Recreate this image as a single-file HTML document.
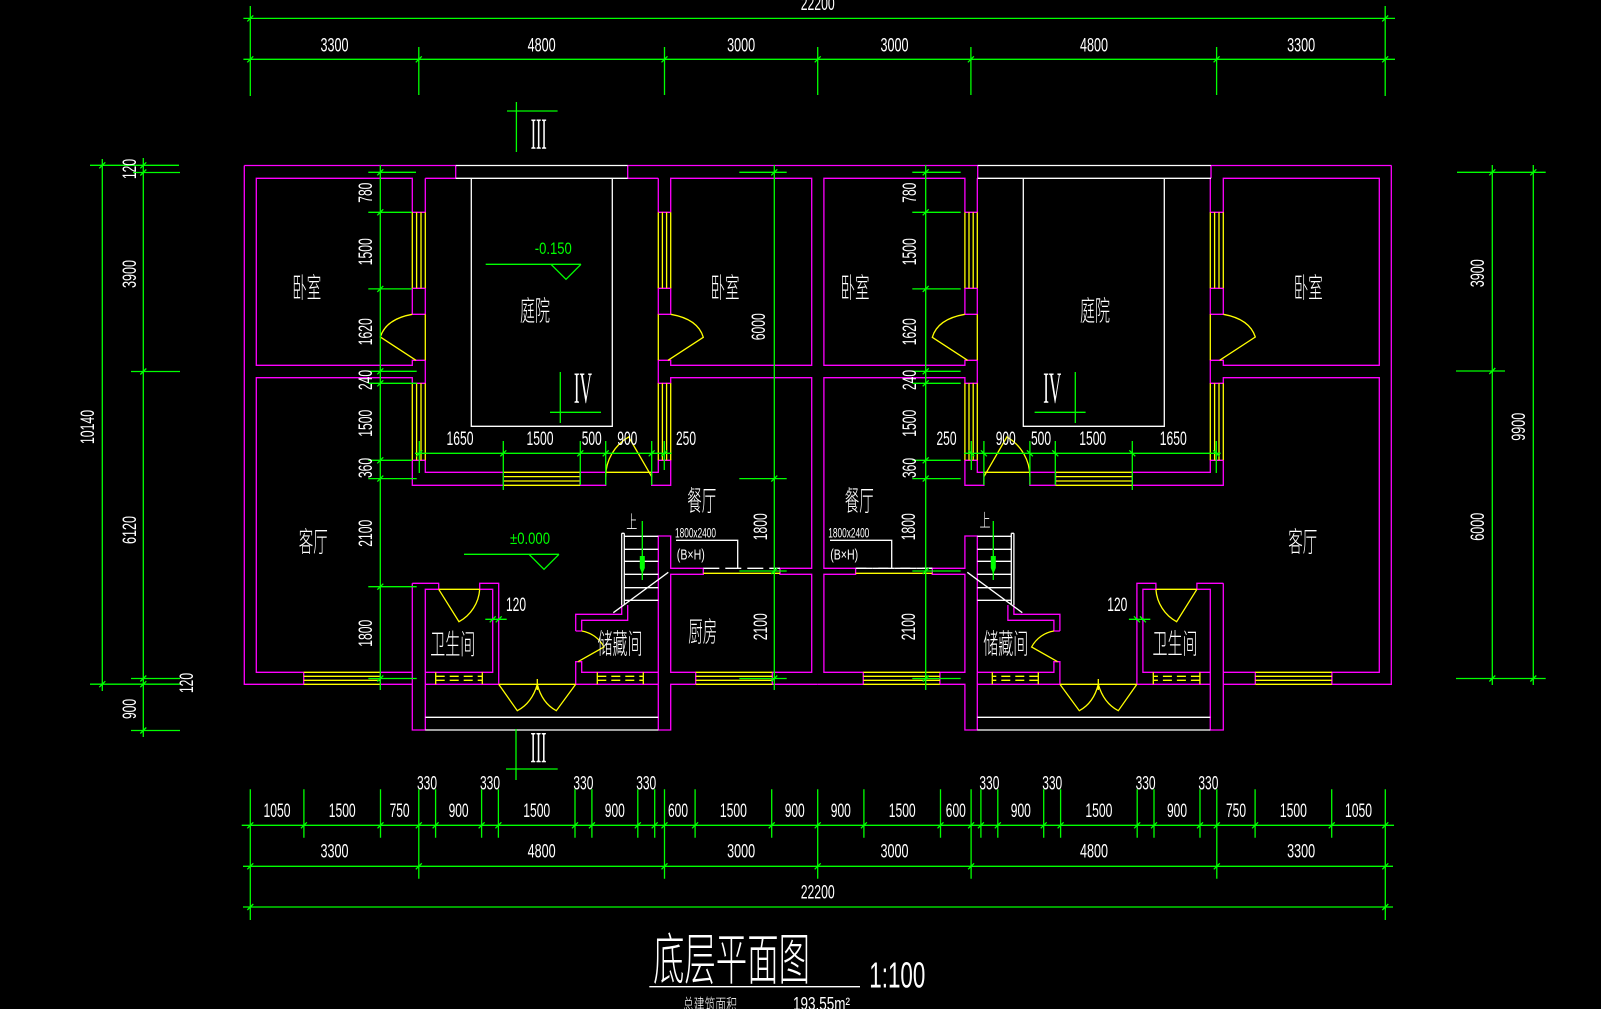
<!DOCTYPE html>
<html><head><meta charset="utf-8">
<style>
html,body{margin:0;padding:0;background:#000;overflow:hidden}
svg{display:block}
.d{font-family:"Liberation Sans",sans-serif;font-size:19px;fill:#fff;text-anchor:middle}
.c{font-family:"Liberation Sans","Noto Sans CJK SC",sans-serif;font-size:28px;fill:#fff;text-anchor:middle;font-weight:300}
.g{font-family:"Liberation Sans",sans-serif;font-size:17px;fill:#0f0;text-anchor:middle}
.r{font-family:"Liberation Serif",serif;font-size:44px;fill:#fff;text-anchor:middle}
.s{font-family:"Liberation Sans",sans-serif;fill:#fff;text-anchor:middle}
</style></head>
<body>
<svg width="1601" height="1009" viewBox="0 0 1601 1009" xmlns="http://www.w3.org/2000/svg">
<rect width="1601" height="1009" fill="#000"/>
<g fill="none" stroke-width="1.3">
<g id="u">
<path stroke="#f0f" d="M244.3 165.5V684.3H303.7V672.3H256.3V377.7H412.3V383.3H425.3V360.3H412.3V365.3H256.3V178.3H412.3V212.3H425.3V178.3M412.3 288.3H425.3V314.3H412.3ZM380.3 684.3V672.3H412.3M380.3 684.3H412.3M412.3 460.3H425.3V472.3H503.3V485.3H412.3V460.3M580 472.3H605.7V485.3H580ZM651.7 472.3V485.3H670.7V460.3H658.3V472.3H651.7M658.3 212.3V178.3M670.7 212.3V178.3H811.7V365.3H670.7V360.3H658.3V383.3H670.7V377.7H811.7V568.3H780V574.3H811.7V672.3H772.3V684.3H817.8M658.3 212.3H670.7M658.3 288.3H670.7V314.3H658.3ZM695.7 684.3V672.3H670.7V574.3H703.3V568.3H670.7V536H658.3V730H670.7V684.3H695.7M412.3 583.3H438.7V589.3H425.3V730H412.3V583.3M425.3 672.3H492.7V589.3H479.7V583.3H498.7V684.3H425.3M575.7 684.3H658.3M575.7 684.3V661.7H581.7V672.3H658.3M575.7 631V614.3H621.7V605M581.7 631V620.3H627.7V605M575.7 631H581.7"/>
<path stroke="#ff0" d="M412.3 212.3V288.3M416.6 212.3V288.3M421 212.3V288.3M425.3 212.3V288.3M412.3 383.3V460.3M416.6 383.3V460.3M421 383.3V460.3M425.3 383.3V460.3M658.3 212.3V288.3M662.4 212.3V288.3M666.6 212.3V288.3M670.7 212.3V288.3M658.3 383.3V460.3M662.4 383.3V460.3M666.6 383.3V460.3M670.7 383.3V460.3M503.3 472.3H580M503.3 476.6H580M503.3 481H580M503.3 485.3H580M303.7 672.3H380.3M303.7 676.3H380.3M303.7 680.3H380.3M303.7 684.3H380.3M695.7 672.3H772.3M695.7 676.3H772.3M695.7 680.3H772.3M695.7 684.3H772.3M425.3 314.3V360.3M412.3 314.3Q386 319 380.3 337L416 360.3M658.3 314.3V360.3M670.7 314.3Q698 319 703.3 337.3L668 360.3M605.7 472.3H651.7M605.7 476.7A46 46 0 0 1 628.7 436.9L651.7 476.7M703.3 573.3H780M438.7 589.3H479.7M438.7 589.3L459 621.7A40 40 0 0 0 479.7 589.3M435.7 672.3V684.3M482.3 672.3V684.3M597.3 672.3V684.3M643.3 672.3V684.3M581.7 631A31 31 0 0 1 604 647L578 661.7M498.7 684.3H575.7M498.7 684.3L517.3 710.7Q532 703 537.3 684.3Q542 703 556.3 710.7L575.7 684.3M537.3 679V690"/>
<path stroke="#ff0" stroke-dasharray="9 5" d="M435.7 676.3H482.3M435.7 680.3H482.3M597.3 676.3H643.3M597.3 680.3H643.3"/>
<path stroke="#fff" d="M471.3 178.3V426.3H612.3V178.3M425.3 717.3H658.3M425.3 730H658.3M621.7 533.3V605M624.3 533.3V605M621.7 533.3H624.3M624.3 536.3H658.3M624.3 549.3H658.3M624.3 561.3H658.3M624.3 574.3H658.3M624.3 587.7H658.3M624.3 600.3H658.3M613.3 612.7L668.3 572.3"/>
<path stroke="#fff" stroke-dasharray="16 6" d="M703.3 568.3H780"/>
<path stroke="#0f0" d="M415 453.3H671.7M419.3 441V473M503.3 441V490M580.3 441V485M605.7 441V485M651.7 441V485M664.3 441V470M560.3 372V423M550 412.3H601M642.3 521V580M485.3 619.3H506.7M416.3 456.3l6-6M500.3 456.3l6-6M577.3 456.3l6-6M602.7 456.3l6-6M648.7 456.3l6-6M661.3 456.3l6-6M489.7 622.3l6-6M495.7 622.3l6-6"/>
<polygon fill="#0f0" stroke="none" points="639.8,556 644.8,556 644.8,568 642.3,574 639.8,568"/>
</g>
<use href="#u" transform="matrix(-1 0 0 1 1635.6 0)"/>

<path stroke="#f0f" d="M244.3 165.5H455.7V178.3H425.3M627.7 165.5H977.7V178.3M627.7 165.5V178.3H658.3M1211 165.5H1391.5M1211 165.5V178.3"/>
<path stroke="#fff" d="M455.7 165.5H627.7M455.7 178.3H627.7M977.7 165.5H1211M977.7 178.3H1211M676 540.3H737.7V568.3M830 540.3H891.7V568.3M649.3 986.7H860"/>
<path stroke="#fff" stroke-dasharray="16 6" d="M856.3 568.3H932.3"/>

<path stroke="#0f0" d="M243.4 18.4H1395M243.4 59.3H1395M250.3 6V96M1385.2 6V96M418.8 47V95M664.5 47V95M817.7 47V95M970.9 47V95M1216.6 47V95
M241.7 825.3H1394M243 866.3H1393M243 907H1393M250.3 789.3V920M1385.3 789.3V920M418.8 789.3V878.7M664.5 789.3V878.7M817.7 789.3V878.7M971.1 789.3V878.7M1216.8 789.3V878.7
M303.9 789.3V837.7M380.5 789.3V837.7M435.6 789.3V837.7M481.6 789.3V837.7M498.4 789.3V837.7M575 789.3V837.7M591.9 789.3V837.7M637.8 789.3V837.7M654.7 789.3V837.7M695.1 789.3V837.7M771.7 789.3V837.7
M863.9 789.3V837.7M940.5 789.3V837.7M980.9 789.3V837.7M997.8 789.3V837.7M1043.7 789.3V837.7M1060.6 789.3V837.7M1137.2 789.3V837.7M1154 789.3V837.7M1200 789.3V837.7M1255.1 789.3V837.7M1331.7 789.3V837.7
M102.3 159V691M143.3 158V737M90 165.3H179M133 172.5H180M131 371.5H180M131 678.5H180M90 684.2H180M131 730.5H180
M1492.3 165V685M1533.3 165V685M1457 172.3H1545.7M1456 371H1505M1456 678.5H1545.7
M380.3 165V690M368.3 172.3H416M368.3 212.3H412M368.3 288.9H412M368.3 371.3H416.7M368.3 383.3H416.7M368.3 460.3H412M368.3 478.6H416.7M368.3 586.7H416.7M368.3 678.5H416.7
M774.3 165V690M739.3 172.3H786.7M739.3 478.6H786.7M739.3 571H786.7M739.3 678.5H786.7
M925.7 165V690M912.3 172.3H960.7M912.3 212.3H960.7M912.3 288.9H960.7M912.3 371.3H960.7M912.3 383.3H960.7M912.3 460.3H960.7M912.3 478.6H960.7M912.3 571H960.7M912.3 678.5H960.7
M485.7 264.3H581M551 264.3L566 279.3L581 264.3M464 554.3H559M529 554.3L544 569.3L559 554.3
M516.4 102V152M507 111H557.6M516 729V780M506 769H557.7"/>
<path stroke="#0f0" d="M247.3 21.4l6-6M1382.2 21.4l6-6M247.3 62.3l6-6M415.8 62.3l6-6M661.5 62.3l6-6M814.7 62.3l6-6M967.9 62.3l6-6M1213.6 62.3l6-6M1382.2 62.3l6-6
M247.3 828.3l6-6M300.9 828.3l6-6M377.5 828.3l6-6M415.8 828.3l6-6M432.6 828.3l6-6M478.6 828.3l6-6M495.4 828.3l6-6M572 828.3l6-6M588.9 828.3l6-6M634.8 828.3l6-6M651.7 828.3l6-6M661.5 828.3l6-6M692.1 828.3l6-6M768.7 828.3l6-6M814.7 828.3l6-6M860.9 828.3l6-6M937.5 828.3l6-6M968.1 828.3l6-6M977.9 828.3l6-6M994.8 828.3l6-6M1040.7 828.3l6-6M1057.6 828.3l6-6M1134.2 828.3l6-6M1151 828.3l6-6M1197 828.3l6-6M1213.8 828.3l6-6M1252.1 828.3l6-6M1328.7 828.3l6-6M1382.3 828.3l6-6
M247.3 869.3l6-6M415.8 869.3l6-6M661.5 869.3l6-6M814.7 869.3l6-6M968.1 869.3l6-6M1213.8 869.3l6-6M1382.3 869.3l6-6M247.3 910l6-6M1382.3 910l6-6
M99.3 168.3l6-6M99.3 687.2l6-6M140.3 168.3l6-6M140.3 175.5l6-6M140.3 374.5l6-6M140.3 681.5l6-6M140.3 687.2l6-6M140.3 733.5l6-6
M1489.3 175.3l6-6M1489.3 374l6-6M1489.3 681.5l6-6M1530.3 175.3l6-6M1530.3 681.5l6-6
M377.3 175.3l6-6M377.3 215.3l6-6M377.3 291.9l6-6M377.3 374.3l6-6M377.3 386.3l6-6M377.3 463.3l6-6M377.3 481.6l6-6M377.3 589.7l6-6M377.3 681.5l6-6
M771.3 175.3l6-6M771.3 481.6l6-6M771.3 574l6-6M771.3 681.5l6-6
M922.7 175.3l6-6M922.7 215.3l6-6M922.7 291.9l6-6M922.7 374.3l6-6M922.7 386.3l6-6M922.7 463.3l6-6M922.7 481.6l6-6M922.7 574l6-6M922.7 681.5l6-6"/>
</g>

<text class="d" x="817.7" y="9.8" textLength="34" lengthAdjust="spacingAndGlyphs">22200</text>
<text class="d" x="334.5" y="51.3" textLength="28" lengthAdjust="spacingAndGlyphs">3300</text>
<text class="d" x="541.6" y="51.3" textLength="28" lengthAdjust="spacingAndGlyphs">4800</text>
<text class="d" x="741.1" y="51.3" textLength="28" lengthAdjust="spacingAndGlyphs">3000</text>
<text class="d" x="894.5" y="51.3" textLength="28" lengthAdjust="spacingAndGlyphs">3000</text>
<text class="d" x="1094" y="51.3" textLength="28" lengthAdjust="spacingAndGlyphs">4800</text>
<text class="d" x="1301.1" y="51.3" textLength="28" lengthAdjust="spacingAndGlyphs">3300</text>

<text class="d" x="277" y="816.8" textLength="27" lengthAdjust="spacingAndGlyphs">1050</text>
<text class="d" x="342.2" y="816.8" textLength="27" lengthAdjust="spacingAndGlyphs">1500</text>
<text class="d" x="399.6" y="816.8" textLength="20" lengthAdjust="spacingAndGlyphs">750</text>
<text class="d" x="458.6" y="816.8" textLength="20" lengthAdjust="spacingAndGlyphs">900</text>
<text class="d" x="536.7" y="816.8" textLength="27" lengthAdjust="spacingAndGlyphs">1500</text>
<text class="d" x="614.8" y="816.8" textLength="20" lengthAdjust="spacingAndGlyphs">900</text>
<text class="d" x="678" y="816.8" textLength="20" lengthAdjust="spacingAndGlyphs">600</text>
<text class="d" x="733.4" y="816.8" textLength="27" lengthAdjust="spacingAndGlyphs">1500</text>
<text class="d" x="794.7" y="816.8" textLength="20" lengthAdjust="spacingAndGlyphs">900</text>
<text class="d" x="840.8" y="816.8" textLength="20" lengthAdjust="spacingAndGlyphs">900</text>
<text class="d" x="902.2" y="816.8" textLength="27" lengthAdjust="spacingAndGlyphs">1500</text>
<text class="d" x="955.8" y="816.8" textLength="20" lengthAdjust="spacingAndGlyphs">600</text>
<text class="d" x="1020.8" y="816.8" textLength="20" lengthAdjust="spacingAndGlyphs">900</text>
<text class="d" x="1098.9" y="816.8" textLength="27" lengthAdjust="spacingAndGlyphs">1500</text>
<text class="d" x="1177" y="816.8" textLength="20" lengthAdjust="spacingAndGlyphs">900</text>
<text class="d" x="1236" y="816.8" textLength="20" lengthAdjust="spacingAndGlyphs">750</text>
<text class="d" x="1293.4" y="816.8" textLength="27" lengthAdjust="spacingAndGlyphs">1500</text>
<text class="d" x="1358.5" y="816.8" textLength="27" lengthAdjust="spacingAndGlyphs">1050</text>
<text class="d" x="427" y="789.5" textLength="20" lengthAdjust="spacingAndGlyphs">330</text>
<text class="d" x="490" y="789.5" textLength="20" lengthAdjust="spacingAndGlyphs">330</text>
<text class="d" x="583.4" y="789.5" textLength="20" lengthAdjust="spacingAndGlyphs">330</text>
<text class="d" x="646.2" y="789.5" textLength="20" lengthAdjust="spacingAndGlyphs">330</text>
<text class="d" x="989.4" y="789.5" textLength="20" lengthAdjust="spacingAndGlyphs">330</text>
<text class="d" x="1052.2" y="789.5" textLength="20" lengthAdjust="spacingAndGlyphs">330</text>
<text class="d" x="1145.6" y="789.5" textLength="20" lengthAdjust="spacingAndGlyphs">330</text>
<text class="d" x="1208.4" y="789.5" textLength="20" lengthAdjust="spacingAndGlyphs">330</text>
<text class="d" x="334.5" y="857.5" textLength="28" lengthAdjust="spacingAndGlyphs">3300</text>
<text class="d" x="541.6" y="857.5" textLength="28" lengthAdjust="spacingAndGlyphs">4800</text>
<text class="d" x="741.1" y="857.5" textLength="28" lengthAdjust="spacingAndGlyphs">3000</text>
<text class="d" x="894.5" y="857.5" textLength="28" lengthAdjust="spacingAndGlyphs">3000</text>
<text class="d" x="1094" y="857.5" textLength="28" lengthAdjust="spacingAndGlyphs">4800</text>
<text class="d" x="1301.1" y="857.5" textLength="28" lengthAdjust="spacingAndGlyphs">3300</text>
<text class="d" x="817.7" y="898.5" textLength="34" lengthAdjust="spacingAndGlyphs">22200</text>

<text class="d" transform="translate(129 169) rotate(-90)" y="6.8" textLength="20" lengthAdjust="spacingAndGlyphs">120</text>
<text class="d" transform="translate(129 274) rotate(-90)" y="6.8" textLength="28" lengthAdjust="spacingAndGlyphs">3900</text>
<text class="d" transform="translate(129 530) rotate(-90)" y="6.8" textLength="28" lengthAdjust="spacingAndGlyphs">6120</text>
<text class="d" transform="translate(87.3 427) rotate(-90)" y="6.8" textLength="34" lengthAdjust="spacingAndGlyphs">10140</text>
<text class="d" transform="translate(186 683) rotate(-90)" y="6.8" textLength="20" lengthAdjust="spacingAndGlyphs">120</text>
<text class="d" transform="translate(129 709) rotate(-90)" y="6.8" textLength="20" lengthAdjust="spacingAndGlyphs">900</text>
<text class="d" transform="translate(1477.3 273.3) rotate(-90)" y="6.8" textLength="28" lengthAdjust="spacingAndGlyphs">3900</text>
<text class="d" transform="translate(1477 526.7) rotate(-90)" y="6.8" textLength="28" lengthAdjust="spacingAndGlyphs">6000</text>
<text class="d" transform="translate(1518 426.7) rotate(-90)" y="6.8" textLength="28" lengthAdjust="spacingAndGlyphs">9900</text>

<text class="d" transform="translate(365 192.7) rotate(-90)" y="6.8" textLength="20" lengthAdjust="spacingAndGlyphs">780</text>
<text class="d" transform="translate(365 251.7) rotate(-90)" y="6.8" textLength="27" lengthAdjust="spacingAndGlyphs">1500</text>
<text class="d" transform="translate(365 331.7) rotate(-90)" y="6.8" textLength="27" lengthAdjust="spacingAndGlyphs">1620</text>
<text class="d" transform="translate(365 380) rotate(-90)" y="6.8" textLength="20" lengthAdjust="spacingAndGlyphs">240</text>
<text class="d" transform="translate(365 423.3) rotate(-90)" y="6.8" textLength="27" lengthAdjust="spacingAndGlyphs">1500</text>
<text class="d" transform="translate(365 468) rotate(-90)" y="6.8" textLength="20" lengthAdjust="spacingAndGlyphs">360</text>
<text class="d" transform="translate(365 533.3) rotate(-90)" y="6.8" textLength="27" lengthAdjust="spacingAndGlyphs">2100</text>
<text class="d" transform="translate(365 633.3) rotate(-90)" y="6.8" textLength="27" lengthAdjust="spacingAndGlyphs">1800</text>
<text class="d" transform="translate(758.3 326.7) rotate(-90)" y="6.8" textLength="27" lengthAdjust="spacingAndGlyphs">6000</text>
<text class="d" transform="translate(760 526.7) rotate(-90)" y="6.8" textLength="27" lengthAdjust="spacingAndGlyphs">1800</text>
<text class="d" transform="translate(760 626.7) rotate(-90)" y="6.8" textLength="27" lengthAdjust="spacingAndGlyphs">2100</text>
<text class="d" transform="translate(909 192.7) rotate(-90)" y="6.8" textLength="20" lengthAdjust="spacingAndGlyphs">780</text>
<text class="d" transform="translate(909 251.7) rotate(-90)" y="6.8" textLength="27" lengthAdjust="spacingAndGlyphs">1500</text>
<text class="d" transform="translate(909 331.7) rotate(-90)" y="6.8" textLength="27" lengthAdjust="spacingAndGlyphs">1620</text>
<text class="d" transform="translate(909 380) rotate(-90)" y="6.8" textLength="20" lengthAdjust="spacingAndGlyphs">240</text>
<text class="d" transform="translate(909 423.3) rotate(-90)" y="6.8" textLength="27" lengthAdjust="spacingAndGlyphs">1500</text>
<text class="d" transform="translate(909 468) rotate(-90)" y="6.8" textLength="20" lengthAdjust="spacingAndGlyphs">360</text>
<text class="d" transform="translate(908.3 526.7) rotate(-90)" y="6.8" textLength="27" lengthAdjust="spacingAndGlyphs">1800</text>
<text class="d" transform="translate(908.3 626.7) rotate(-90)" y="6.8" textLength="27" lengthAdjust="spacingAndGlyphs">2100</text>

<text class="d" x="460" y="445.1" textLength="27" lengthAdjust="spacingAndGlyphs">1650</text>
<text class="d" x="540" y="445.1" textLength="27" lengthAdjust="spacingAndGlyphs">1500</text>
<text class="d" x="591.7" y="445.1" textLength="20" lengthAdjust="spacingAndGlyphs">500</text>
<text class="d" x="627.3" y="445.1" textLength="20" lengthAdjust="spacingAndGlyphs">900</text>
<text class="d" x="686" y="445.1" textLength="20" lengthAdjust="spacingAndGlyphs">250</text>
<text class="d" x="946.5" y="445.1" textLength="20" lengthAdjust="spacingAndGlyphs">250</text>
<text class="d" x="1005.7" y="445.1" textLength="20" lengthAdjust="spacingAndGlyphs">900</text>
<text class="d" x="1041" y="445.1" textLength="20" lengthAdjust="spacingAndGlyphs">500</text>
<text class="d" x="1092.7" y="445.1" textLength="27" lengthAdjust="spacingAndGlyphs">1500</text>
<text class="d" x="1173.3" y="445.1" textLength="27" lengthAdjust="spacingAndGlyphs">1650</text>
<text class="d" x="516" y="610.8" textLength="20" lengthAdjust="spacingAndGlyphs">120</text>
<text class="d" x="1117.3" y="610.8" textLength="20" lengthAdjust="spacingAndGlyphs">120</text>

<text class="g" x="553.3" y="253.8" textLength="37" lengthAdjust="spacingAndGlyphs">-0.150</text>
<text class="g" x="530" y="543.8" textLength="40" lengthAdjust="spacingAndGlyphs">±0.000</text>

<text class="s" style="font-size:14px" x="695.5" y="537.3" textLength="41" lengthAdjust="spacingAndGlyphs">1800x2400</text>
<text class="s" style="font-size:15px" x="690.8" y="559.5" textLength="28" lengthAdjust="spacingAndGlyphs">(B×H)</text>
<text class="s" style="font-size:14px" x="848.8" y="537.3" textLength="41" lengthAdjust="spacingAndGlyphs">1800x2400</text>
<text class="s" style="font-size:15px" x="844.2" y="559.5" textLength="28" lengthAdjust="spacingAndGlyphs">(B×H)</text>

<text class="r" x="538.7" y="148.3" textLength="16" lengthAdjust="spacingAndGlyphs">III</text>
<text class="r" x="538.5" y="762" textLength="16" lengthAdjust="spacingAndGlyphs">III</text>
<text class="r" x="582.9" y="402.3" textLength="18" lengthAdjust="spacingAndGlyphs">IV</text>
<text class="r" x="1052.2" y="402.3" textLength="18" lengthAdjust="spacingAndGlyphs">IV</text>

<text class="c" x="306.7" y="297.3" textLength="29" lengthAdjust="spacingAndGlyphs">卧室</text>
<text class="c" x="535" y="320.6" textLength="30" lengthAdjust="spacingAndGlyphs">庭院</text>
<text class="c" x="725" y="297.3" textLength="29" lengthAdjust="spacingAndGlyphs">卧室</text>
<text class="c" x="855" y="297.3" textLength="29" lengthAdjust="spacingAndGlyphs">卧室</text>
<text class="c" x="1095" y="320.6" textLength="30" lengthAdjust="spacingAndGlyphs">庭院</text>
<text class="c" x="1308.3" y="297.3" textLength="29" lengthAdjust="spacingAndGlyphs">卧室</text>
<text class="c" x="313.3" y="551.3" textLength="29" lengthAdjust="spacingAndGlyphs">客厅</text>
<text class="c" x="1302.7" y="551.3" textLength="29" lengthAdjust="spacingAndGlyphs">客厅</text>
<text class="c" x="701.7" y="510.6" textLength="29" lengthAdjust="spacingAndGlyphs">餐厅</text>
<text class="c" x="859.3" y="510.6" textLength="29" lengthAdjust="spacingAndGlyphs">餐厅</text>
<text class="c" x="702.7" y="641.3" textLength="29" lengthAdjust="spacingAndGlyphs">厨房</text>
<text class="c" x="452.7" y="653.9" textLength="45" lengthAdjust="spacingAndGlyphs">卫生间</text>
<text class="c" x="620" y="653.3" textLength="45" lengthAdjust="spacingAndGlyphs">储藏间</text>
<text class="c" x="1005.7" y="653.3" textLength="45" lengthAdjust="spacingAndGlyphs">储藏间</text>
<text class="c" x="1175" y="653.3" textLength="45" lengthAdjust="spacingAndGlyphs">卫生间</text>
<text class="c" style="font-size:18px" x="631.7" y="528.5" textLength="11" lengthAdjust="spacingAndGlyphs">上</text>
<text class="c" style="font-size:18px" x="985" y="526.8" textLength="11" lengthAdjust="spacingAndGlyphs">上</text>

<text class="c" style="font-size:56px;text-anchor:start" x="653" y="979.6" textLength="157" lengthAdjust="spacingAndGlyphs">底层平面图</text>
<text class="s" style="font-size:36px;text-anchor:start" x="869.3" y="987.3" textLength="56" lengthAdjust="spacingAndGlyphs">1:100</text>
<text class="c" style="font-size:17px;text-anchor:start" x="683" y="1011" textLength="54" lengthAdjust="spacingAndGlyphs">总建筑面积</text>
<text class="s" style="font-size:18px;text-anchor:start" x="793" y="1010" textLength="57" lengthAdjust="spacingAndGlyphs">193.55m²</text>
</svg>
</body></html>
